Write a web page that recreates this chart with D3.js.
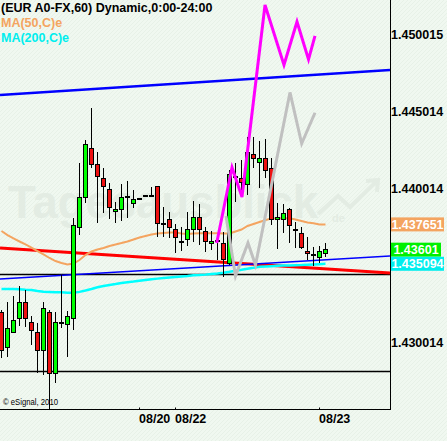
<!DOCTYPE html>
<html>
<head>
<meta charset="utf-8">
<title>EUR A0-FX,60</title>
<script src="https://d3js.org/d3.v7.min.js"></script>
<style>
  body { margin: 0; background: #f0f8f0; }
  svg { display: block; }
  text { font-family: "Liberation Sans", Arial, sans-serif; font-weight: bold; font-size: 12.5px; }
</style>
</head>
<body>
<div id="chart"></div>
<script>
// hourly candles, left to right
var openP = [1.43190,1.42969,1.43066,1.43151,1.43255,1.43131,1.43060,1.42949,1.43196,1.42800,
             1.43125,1.43118,1.43151,1.43742,1.43937,1.44255,1.44157,1.44060,1.43995,1.43846,
             1.43865,1.43943,1.43904,1.43930,1.43950,1.43950,1.44008,1.43768,1.43794,1.43729,
             1.43651,1.43664,1.43735,1.43807,1.43716,1.43644,1.43657,1.43644,1.43514,1.44073,
             1.44066,1.44021,1.44216,1.44170,1.44196,1.44125,1.43794,1.43800,1.43865,1.43729,
             1.43709,1.43592,1.43566,1.43553,1.43579];
var highP = [1.43209,1.43261,1.43300,1.43365,1.43339,1.43170,1.43125,1.43261,1.43209,1.43196,
             1.43436,1.43203,1.43807,1.44164,1.44313,1.44521,1.44235,1.44131,1.44034,1.43911,
             1.44027,1.44047,1.43988,1.43937,1.43953,1.44008,1.44008,1.43878,1.43846,1.43768,
             1.43748,1.43846,1.43917,1.43898,1.43748,1.43722,1.43702,1.43716,1.44118,1.44164,
             1.44183,1.44333,1.44333,1.44307,1.44320,1.44196,1.43904,1.43898,1.43872,1.43781,
             1.43748,1.43683,1.43618,1.43625,1.43644];
var lowP  = [1.42897,1.42904,1.43060,1.43105,1.43099,1.42982,1.42800,1.42787,1.42527,1.42735,
             1.43092,1.42904,1.43079,1.43696,1.43904,1.44131,1.43774,1.43839,1.43800,1.43774,
             1.43787,1.43807,1.43872,1.43927,1.43946,1.43943,1.43683,1.43683,1.43677,1.43579,
             1.43592,1.43625,1.43651,1.43631,1.43586,1.43599,1.43534,1.43424,1.43501,1.43911,
             1.43969,1.43956,1.44131,1.44001,1.44066,1.43761,1.43605,1.43709,1.43644,1.43612,
             1.43605,1.43534,1.43495,1.43514,1.43553];
var closeP = [1.42949,1.43092,1.43144,1.43261,1.43151,1.43079,1.42949,1.43216,1.42794,1.43131,
              1.43125,1.43170,1.43761,1.43937,1.44287,1.44151,1.44073,1.44008,1.43872,1.43859,
              1.43943,1.43943,1.43930,1.43930,1.43950,1.43950,1.43768,1.43768,1.43742,1.43677,
              1.43651,1.43729,1.43807,1.43735,1.43657,1.43657,1.43657,1.43534,1.44092,1.44073,
              1.44040,1.44229,1.44196,1.44196,1.44118,1.43800,1.43813,1.43839,1.43755,1.43729,
              1.43618,1.43579,1.43566,1.43586,1.43601];

var ma50 = [1.43722,1.43696,1.43674,1.43654,1.43635,1.43615,1.43592,1.43570,1.43547,1.43527,
            1.43514,1.43505,1.43511,1.43534,1.43566,1.43589,1.43602,1.43612,1.43625,1.43635,
            1.43644,1.43654,1.43667,1.43680,1.43690,1.43700,1.43706,1.43709,1.43712,1.43712,
            1.43706,1.43703,1.43706,1.43707,1.43707,1.43707,1.43707,1.43706,1.43706,1.43719,
            1.43732,1.43755,1.43768,1.43781,1.43794,1.43803,1.43805,1.43805,1.43805,1.43797,
            1.43787,1.43777,1.43772,1.43764,1.437651];
var ma200 = [1.43346,1.43346,1.43346,1.43344,1.43341,1.43339,1.43333,1.43328,1.43326,1.43324,
             1.43324,1.43322,1.43322,1.43327,1.43336,1.43346,1.43357,1.43365,1.43372,1.43378,
             1.43385,1.43390,1.43394,1.43399,1.43404,1.43409,1.43413,1.43417,1.43421,1.43424,
             1.43427,1.43430,1.43435,1.43436,1.43439,1.43443,1.43446,1.43451,1.43457,1.43464,
             1.43470,1.43477,1.43483,1.43490,1.43492,1.43494,1.43496,1.43498,1.43499,1.43500,
             1.43501,1.43503,1.43505,1.43507,1.435094];

// trend lines: [start index, start price, end index, end price]
var upperChannel = [-0.25, 1.44605, 64.75, 1.44768];
var lowerChannel = [-0.25, 1.43411, 64.75, 1.43560];
var redTrend = [-0.25, 1.43612, 64.75, 1.43449];
var levels = [1.43444, 1.42813];

// projections
var magentaIdx = [35.87, 38.42, 40.08, 43.92, 47.08, 49.25, 51.17, 52.25];
var magentaPrice = [1.43644, 1.44135, 1.43943, 1.45190, 1.44800, 1.45081, 1.44836, 1.44989];
var grayIdx = [37.42, 39, 41.08, 42.33, 48.08, 50.03, 52.25];
var grayPrice = [1.43820, 1.43430, 1.43644, 1.43501, 1.44622, 1.44290, 1.44490];

var yTicks = [1.450015, 1.445014, 1.440014, 1.430014];
var dateTickIdx = [23, 29, 53];
var dateLabels = ["08/20", "08/22", "08/23"];
var lastValues = [1.437651, 1.43601, 1.435094];
var lastLabels = ["1.437651", "1.43601", "1.435094"];

var W = 447, H = 441;
var plotRight = 390, plotBottom = 409;

var x = d3.scaleLinear().domain([-0.25, 64.75]).range([0, plotRight]);
var y = d3.scaleLinear().domain([1.425664, 1.452223]).range([plotBottom, 0]);

var svg = d3.select("#chart").append("svg")
    .attr("width", W)
    .attr("height", H);

var defs = svg.append("defs");
var pat = defs.append("pattern")
    .attr("id", "hatch")
    .attr("width", 4).attr("height", 4)
    .attr("patternUnits", "userSpaceOnUse");
pat.append("rect").attr("width", 4).attr("height", 4).attr("fill", "#f0f8f0");
pat.append("path").attr("d", "M0,4L4,0").attr("stroke", "#e7f1e7").attr("stroke-width", 1);
defs.append("clipPath").attr("id", "plotclip")
  .append("rect").attr("width", plotRight).attr("height", plotBottom);

svg.append("rect").attr("width", W).attr("height", H).attr("fill", "url(#hatch)");

// watermark
svg.append("text")
    .attr("x", 8).attr("y", 218)
    .attr("textLength", 310).attr("lengthAdjust", "spacingAndGlyphs")
    .style("font-size", "46px")
    .style("fill", "#e3ece3")
    .text("Tagesausblick");
svg.append("text")
    .attr("x", 332).attr("y", 222)
    .style("font-size", "11px")
    .style("fill", "#e3ece3")
    .text("de");
svg.append("path")
    .attr("d", "M318,214L338,196L350,207L376,182M366,181L378,180L377,192")
    .attr("fill", "none")
    .attr("stroke", "#e3ece3")
    .attr("stroke-width", 4);

var plot = svg.append("g").attr("clip-path", "url(#plotclip)");

// horizontal levels
plot.selectAll(".level")
  .data(levels)
  .enter().append("line")
    .attr("class", "level")
    .attr("x1", 0).attr("x2", plotRight)
    .attr("y1", function(d) { return Math.round(y(d)) + 0.5; })
    .attr("y2", function(d) { return Math.round(y(d)) + 0.5; })
    .attr("stroke", "black")
    .attr("stroke-width", 1.3);

function trend(t, color, w) {
  plot.append("line")
    .attr("x1", x(t[0])).attr("y1", y(t[1]))
    .attr("x2", x(t[2])).attr("y2", y(t[3]))
    .attr("stroke", color)
    .attr("stroke-width", w);
}
trend(redTrend, "#ff0000", 3);
trend(upperChannel, "#0000ff", 2.5);
trend(lowerChannel, "#0000ff", 1.5);

var line = d3.line()
    .x(function(d, i) { return x(i); })
    .y(function(d) { return y(d); });

plot.append("path").datum(ma50)
    .attr("d", line)
    .attr("fill", "none")
    .attr("stroke", "#f4a460")
    .attr("stroke-width", 2);
plot.append("path").datum(ma200)
    .attr("d", line)
    .attr("fill", "none")
    .attr("stroke", "#00ffff")
    .attr("stroke-width", 2.5);

// candles
var candles = plot.selectAll(".candle")
  .data(openP.map(function(o, i) { return {i: i, o: o, h: highP[i], l: lowP[i], c: closeP[i]}; }))
  .enter().append("g")
    .attr("class", "candle")
    .attr("shape-rendering", "crispEdges");

candles.append("line")
    .attr("x1", function(d) { return x(d.i); })
    .attr("x2", function(d) { return x(d.i); })
    .attr("y1", function(d) { return y(d.h); })
    .attr("y2", function(d) { return y(d.l); })
    .attr("stroke", "black");

candles.filter(function(d) { return d.o !== d.c; })
  .append("rect")
    .attr("x", function(d) { return x(d.i) - 2; })
    .attr("width", 4)
    .attr("y", function(d) { return y(Math.max(d.o, d.c)); })
    .attr("height", function(d) { return Math.max(1, Math.abs(y(d.o) - y(d.c))); })
    .attr("fill", function(d) { return d.c > d.o ? "#00ff00" : "#ee1111"; })
    .attr("stroke", "black");

candles.filter(function(d) { return d.o === d.c; })
  .append("line")
    .attr("x1", function(d) { return x(d.i) - 2.5; })
    .attr("x2", function(d) { return x(d.i) + 2.5; })
    .attr("y1", function(d) { return y(d.o); })
    .attr("y2", function(d) { return y(d.o); })
    .attr("stroke", "black")
    .attr("stroke-width", 2);

// projection lines
var pline = d3.line()
    .x(function(d) { return x(d[0]); })
    .y(function(d) { return y(d[1]); });

plot.append("path")
    .datum(grayIdx.map(function(v, i) { return [v, grayPrice[i]]; }))
    .attr("d", pline)
    .attr("fill", "none")
    .attr("stroke", "#c0c0c0")
    .attr("stroke-width", 3);
plot.append("path")
    .datum(magentaIdx.map(function(v, i) { return [v, magentaPrice[i]]; }))
    .attr("d", pline)
    .attr("fill", "none")
    .attr("stroke", "#ff00ff")
    .attr("stroke-width", 3);

// axes
var yAxis = d3.axisRight(y)
    .tickValues(yTicks)
    .tickSize(0)
    .tickPadding(1)
    .tickFormat(d3.format(".6f"));
svg.append("g")
    .attr("transform", "translate(" + plotRight + ",0)")
    .call(yAxis)
    .call(function(g) { g.select(".domain").remove(); });

var xAxis = d3.axisBottom(x)
    .tickValues(dateTickIdx)
    .tickFormat(function(d, i) { return dateLabels[i]; })
    .tickSizeInner(-2)
    .tickSizeOuter(0)
    .tickPadding(5)
    .offset(0);
svg.append("g")
    .attr("transform", "translate(0," + (plotBottom + 0.5) + ")")
    .call(xAxis)
    .call(function(g) { g.selectAll(".tick text").attr("text-anchor", "start").attr("dx", "-0.5"); });

svg.append("line")
    .attr("x1", plotRight + 0.5).attr("x2", plotRight + 0.5)
    .attr("y1", 0).attr("y2", plotBottom + 1)
    .attr("stroke", "black");

// last value tags
var tagColors = ["#f4a460", "#00f000", "#00eeee"];
var tagWidths = [53, 50, 53];
lastValues.forEach(function(v, i) {
  var yy = y(v);
  svg.append("rect")
      .attr("x", plotRight + 1).attr("y", yy - 7)
      .attr("width", tagWidths[i]).attr("height", 14)
      .attr("fill", tagColors[i]);
  svg.append("text")
      .attr("x", plotRight + 1 + tagWidths[i] / 2).attr("y", yy + 4.5)
      .attr("text-anchor", "middle")
      .style("fill", "white")
      .text(lastLabels[i]);
});

// header
svg.append("text").attr("x", 1).attr("y", 11.5).style("fill", "black")
    .text("(EUR A0-FX,60) Dynamic,0:00-24:00");
svg.append("text").attr("x", 1).attr("y", 26.5).style("fill", "#f4a460")
    .text("MA(50,C)e");
svg.append("text").attr("x", 1).attr("y", 41.5).style("fill", "#00eeee")
    .text("MA(200,C)e");

svg.append("text")
    .attr("x", 3).attr("y", 405)
    .attr("textLength", 55).attr("lengthAdjust", "spacingAndGlyphs")
    .style("font-size", "9px").style("font-weight", "normal")
    .text("\u00a9 eSignal, 2010");
</script>
</body>
</html>
